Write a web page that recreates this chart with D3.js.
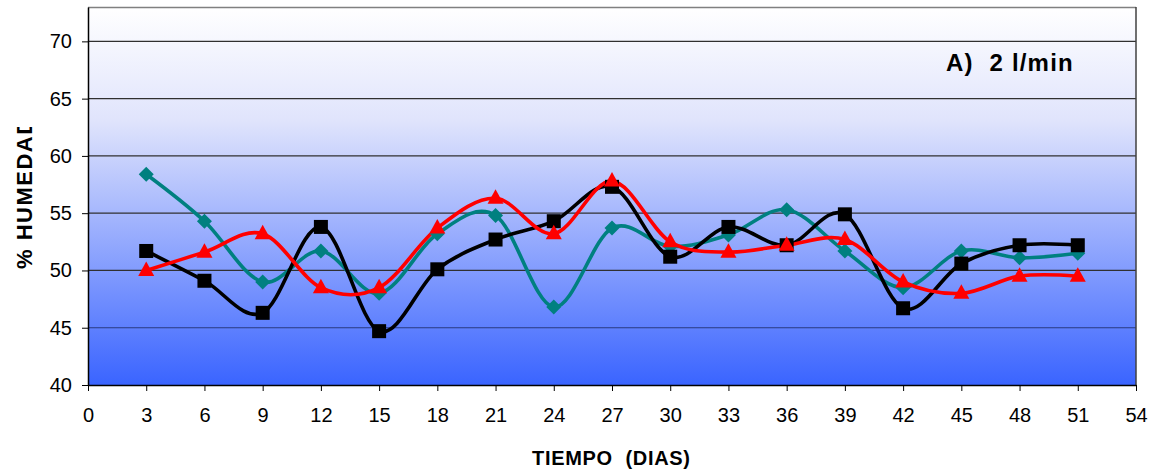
<!DOCTYPE html>
<html><head><meta charset="utf-8">
<script src="https://cdn.jsdelivr.net/npm/d3@7"></script>
<style>body{margin:0;background:#fff}svg{display:block}text{font-family:"Liberation Sans",Arial,sans-serif}</style>
</head><body><svg id="c" width="1158" height="476"></svg>
<script>
const days = [3,6,9,12,15,18,21,24,27,30,33,36,39,42,45,48,51];
const seriesTeal  = [58.4,54.3,49.0,51.7,48.0,53.2,54.8,46.8,53.7,52.1,53.1,55.3,51.7,48.5,51.7,51.1,51.5];
const seriesBlack = [51.7,49.1,46.3,53.8,44.7,50.1,52.7,54.3,57.3,51.2,53.8,52.2,54.9,46.7,50.6,52.2,52.2];
const seriesRed   = [50.0,51.6,53.2,48.5,48.5,53.7,56.3,53.2,57.8,52.5,51.6,52.2,52.7,49.0,48.0,49.5,49.5];
const xTicks = d3.range(0,55,3);
const yTicks = [40,45,50,55,60,65,70];
const title = "A)  2 l/min";
const xTitle = "TIEMPO  (DIAS)";
const yTitle = "% HUMEDAD";

const svg = d3.select("#c");
const L=88, R=1136, T=7, B=385;
const x = d3.scaleLinear().domain([0,54]).range([L,R]);
const y = d3.scaleLinear().domain([40,73]).range([B,T]);

const defs = svg.append("defs");
const g = defs.append("linearGradient").attr("id","bg").attr("x1",0).attr("y1",0).attr("x2",0).attr("y2",1);
g.append("stop").attr("offset","0%").attr("stop-color","#ffffff");
g.append("stop").attr("offset","30%").attr("stop-color","#e0e4fc");
g.append("stop").attr("offset","100%").attr("stop-color","#3a64ff");
defs.append("clipPath").attr("id","yclip").append("rect").attr("x",0).attr("y",127).attr("width",40).attr("height",200);

svg.append("rect").attr("x",L).attr("y",T).attr("width",R-L).attr("height",B-T).attr("fill","url(#bg)");

svg.append("g").selectAll("line").data(yTicks.filter(d=>d>40)).join("line")
  .attr("x1",L).attr("x2",R).attr("y1",d=>y(d)).attr("y2",d=>y(d))
  .attr("stroke",d=>d<=45?"#2a3a80":"#303030").attr("stroke-width",1.2);

svg.append("line").attr("x1",L).attr("x2",R).attr("y1",T+0.5).attr("y2",T+0.5).attr("stroke","#808080").attr("stroke-width",1.5);
svg.append("line").attr("x1",R).attr("x2",R).attr("y1",T).attr("y2",B).attr("stroke","#404040").attr("stroke-width",1.5);

const xa = svg.append("g").attr("transform",`translate(0,${B})`)
  .call(d3.axisBottom(x).tickValues(xTicks).tickSize(6).tickSizeOuter(0).tickPadding(17));
const ya = svg.append("g").attr("transform",`translate(${L},0)`)
  .call(d3.axisLeft(y).tickValues(yTicks).tickSize(6).tickSizeOuter(0).tickPadding(10));
[xa,ya].forEach(a=>{
  a.select(".domain").attr("stroke","#000").attr("stroke-width",1.5);
  a.selectAll(".tick line").attr("stroke","#000");
  a.selectAll("text").attr("font-size",20).attr("fill","#000").style("font-family","Liberation Sans, Arial, sans-serif");
});

const line = d3.line().x((d,i)=>x(days[i])).y(d=>y(d)).curve(d3.curveCatmullRom.alpha(0));
const series = [
  {v:seriesTeal, c:"#008080", m:"diamond"},
  {v:seriesBlack, c:"#000000", m:"square"},
  {v:seriesRed, c:"#ff0000", m:"triangle"}
];
series.forEach(s=>{
  svg.append("path").datum(s.v).attr("d",line).attr("fill","none").attr("stroke",s.c).attr("stroke-width",3.6);
});
series.forEach(s=>{
  const gm = svg.append("g");
  s.v.forEach((v,i)=>{
    const cx=x(days[i]), cy=y(v);
    if(s.m==="square"){
      gm.append("rect").attr("x",cx-7).attr("y",cy-7).attr("width",14).attr("height",14).attr("fill","#000");
    } else if(s.m==="diamond"){
      gm.append("path").attr("d",`M${cx},${cy-7.5}L${cx+7.5},${cy}L${cx},${cy+7.5}L${cx-7.5},${cy}Z`).attr("fill",s.c);
    } else {
      gm.append("path").attr("d",`M${cx},${cy-9}L${cx+8},${cy+5.5}L${cx-8},${cy+5.5}Z`).attr("fill",s.c);
    }
  });
});

svg.append("text").attr("x",946).attr("y",71).attr("font-size",24).attr("font-weight","bold")
  .attr("letter-spacing",1.2).style("white-space","pre").text(title);
svg.append("text").attr("x",532).attr("y",465).attr("font-size",20).attr("font-weight","bold")
  .attr("textLength",158).attr("lengthAdjust","spacing").style("white-space","pre").text(xTitle);
svg.append("g").attr("clip-path","url(#yclip)").append("text")
  .attr("transform","translate(32,269) rotate(-90)").attr("text-anchor","start").attr("font-size",22).attr("font-weight","bold")
  .attr("letter-spacing",1.5).text(yTitle);
</script></body></html>
